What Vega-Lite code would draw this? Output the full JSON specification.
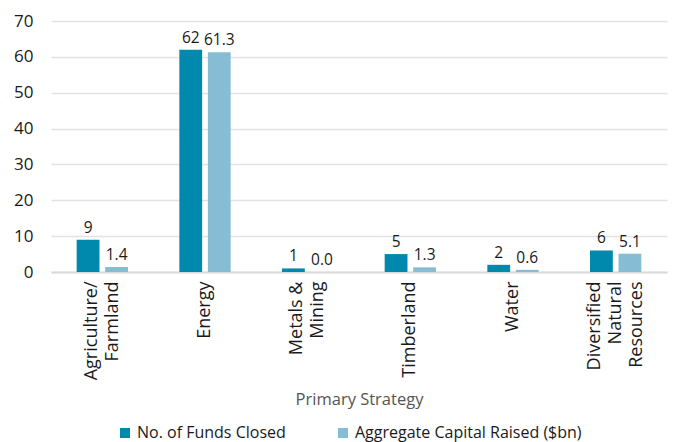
{
  "$schema": "https://vega.github.io/schema/vega-lite/v6.json",
  "autosize": {"type": "none"},
  "width": 616,
  "height": 251,
  "padding": {"left": 51, "top": 21, "right": 8, "bottom": 170},
  "background": "white",
  "config": {
    "font": "Open Sans",
    "view": {"stroke": null}
  },
  "data": {
    "values": [
      {"strategy": "Agriculture/|Farmland", "series": "No. of Funds Closed", "value": 9},
      {"strategy": "Agriculture/|Farmland", "series": "Aggregate Capital Raised ($bn)", "value": 1.4},
      {"strategy": "Energy", "series": "No. of Funds Closed", "value": 62},
      {"strategy": "Energy", "series": "Aggregate Capital Raised ($bn)", "value": 61.3},
      {"strategy": "Metals &|Mining", "series": "No. of Funds Closed", "value": 1},
      {"strategy": "Metals &|Mining", "series": "Aggregate Capital Raised ($bn)", "value": 0.0},
      {"strategy": "Timberland", "series": "No. of Funds Closed", "value": 5},
      {"strategy": "Timberland", "series": "Aggregate Capital Raised ($bn)", "value": 1.3},
      {"strategy": "Water", "series": "No. of Funds Closed", "value": 2},
      {"strategy": "Water", "series": "Aggregate Capital Raised ($bn)", "value": 0.6},
      {"strategy": "Diversified|Natural|Resources", "series": "No. of Funds Closed", "value": 6},
      {"strategy": "Diversified|Natural|Resources", "series": "Aggregate Capital Raised ($bn)", "value": 5.1}
    ]
  },
  "encoding": {
    "x": {
      "field": "strategy",
      "type": "nominal",
      "sort": null,
      "scale": {"paddingInner": 0.5, "paddingOuter": 0.25},
      "axis": {
        "title": "Primary Strategy",
        "titleFont": "Open Sans",
        "titleFontSize": 16.5,
        "titleFontWeight": "normal",
        "titleColor": "#555555",
        "titlePadding": 12,
        "labelExpr": "datum.value == 'Agriculture/|Farmland' ? ['Agriculture/', 'Farmland\u00a0\u00a0'] : datum.value == 'Metals &|Mining' ? ['Metals &', 'Mining\u00a0\u00a0'] : datum.value == 'Diversified|Natural|Resources' ? ['Diversified', 'Natural\u00a0\u00a0\u00a0', 'Resources'] : split(datum.value, '|')",
        "labelAngle": -90,
        "labelAlign": "right",
        "labelBaseline": "middle",
        "labelFontSize": 18,
        "labelColor": "#1a1a1a",
        "labelLineHeight": 21,
        "labelPadding": 9,
        "labelLimit": 300,
        "labelOffset": {
          "condition": [
            {"test": "length(split(datum.value, '|')) == 3", "value": -21},
            {"test": "length(split(datum.value, '|')) == 2", "value": -10.5}
          ],
          "value": 0
        },
        "ticks": false,
        "domainColor": "#d9d9d9",
        "domainWidth": 2,
        "grid": false
      }
    },
    "xOffset": {
      "field": "series",
      "type": "nominal",
      "sort": ["No. of Funds Closed", "Aggregate Capital Raised ($bn)"],
      "scale": {"paddingInner": 0.2}
    },
    "y": {
      "field": "value",
      "type": "quantitative",
      "scale": {"domain": [0, 70], "nice": false},
      "axis": {
        "title": null,
        "values": [0, 10, 20, 30, 40, 50, 60, 70],
        "labelOverlap": false,
        "domain": false,
        "ticks": false,
        "labelFontSize": 17,
        "labelColor": "#1a1a1a",
        "labelPadding": 18,
        "gridColor": "#e3e3e3",
        "gridWidth": 1.5
      }
    }
  },
  "layer": [
    {
      "mark": {"type": "bar"},
      "encoding": {
        "color": {
          "field": "series",
          "type": "nominal",
          "sort": ["No. of Funds Closed", "Aggregate Capital Raised ($bn)"],
          "scale": {"domain": ["No. of Funds Closed", "Aggregate Capital Raised ($bn)"], "range": ["#0189ad", "#87bcd5"]},
          "legend": {
            "title": null,
            "orient": "none",
            "legendX": 66,
            "legendY": 404,
            "direction": "horizontal",
            "symbolType": "square",
            "symbolSize": 100,
            "symbolStrokeWidth": 0,
            "labelFontSize": 16,
            "labelColor": "#1a1a1a",
            "labelLimit": 300,
            "columnPadding": 49,
            "labelOffset": 4
          }
        }
      }
    },
    {
      "transform": [{"filter": "datum.series === 'No. of Funds Closed'"}],
      "mark": {"type": "text", "baseline": "bottom", "dy": -4, "fontSize": 15.5, "color": "#1a1a1a"},
      "encoding": {"text": {"field": "value", "type": "quantitative", "format": "d"}}
    },
    {
      "transform": [{"filter": "datum.series !== 'No. of Funds Closed'"}],
      "mark": {"type": "text", "baseline": "bottom", "dy": -4, "fontSize": 15.5, "color": "#1a1a1a"},
      "encoding": {"text": {"field": "value", "type": "quantitative", "format": ".1f"}}
    }
  ]
}
